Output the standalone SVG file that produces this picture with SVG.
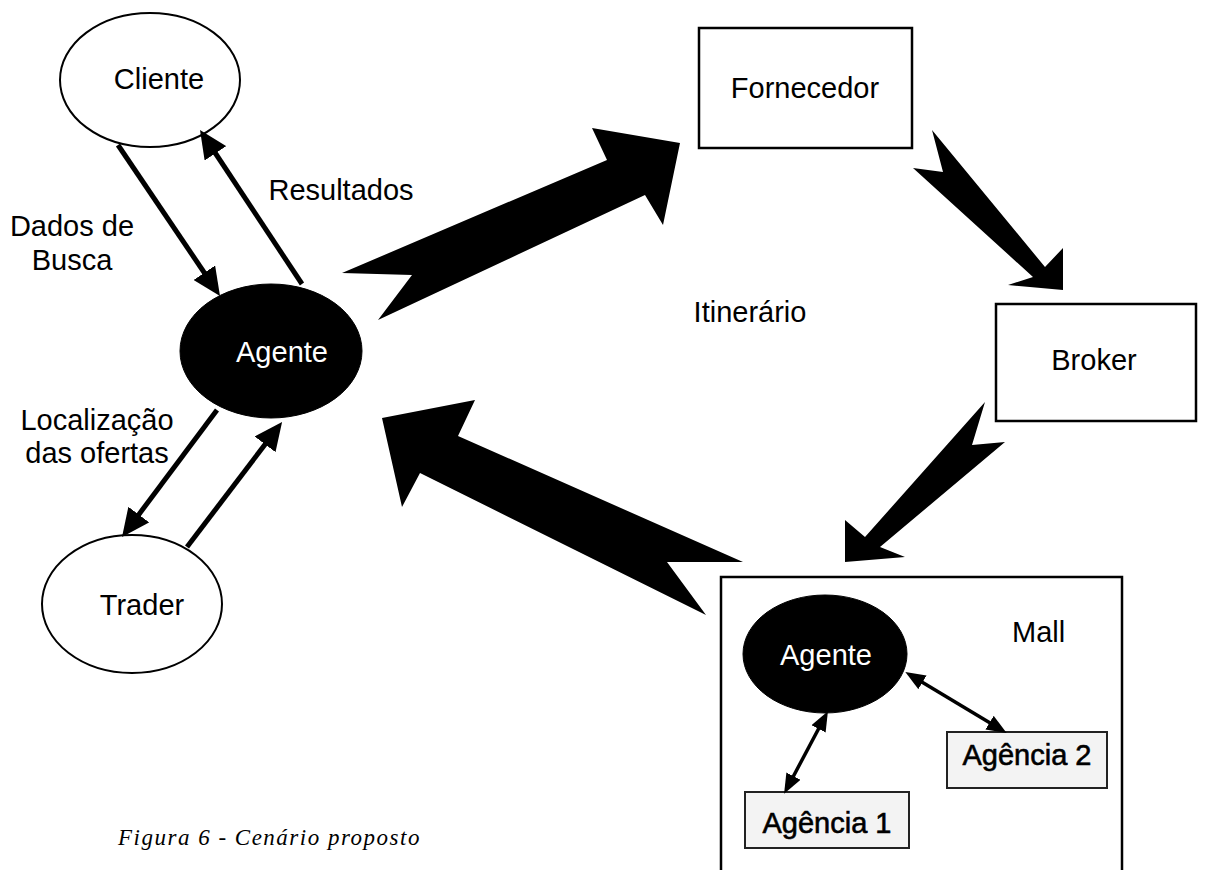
<svg xmlns="http://www.w3.org/2000/svg" width="1229" height="870" viewBox="0 0 1229 870">
<defs>
<style>
.t{font-family:"Liberation Sans",Arial,sans-serif;font-size:29px;fill:#000}
.w{fill:#fff}
.m{text-anchor:middle}
.hv{stroke:#000;stroke-width:0.6}
.node{fill:#fff;stroke:#000;stroke-width:2}
.dark{fill:#000;stroke:#000;stroke-width:1}
.box{fill:#fff;stroke:#000;stroke-width:2.5}
.ag{fill:#f3f3f3;stroke:#222;stroke-width:2}
.ln{stroke:#000;stroke-width:5;fill:none}
.ls{stroke:#000;stroke-width:3.5;fill:none}
.big{fill:#000}
.cap{font-family:"Liberation Serif","Times New Roman",serif;font-style:italic;font-size:23px;letter-spacing:1.5px;fill:#000}
</style>
<marker id="ah" markerUnits="userSpaceOnUse" markerWidth="28" markerHeight="26" refX="13" refY="13" orient="auto">
<path d="M0,0 L28,13 L0,26 z" fill="#000"/>
</marker>
<marker id="ahs" markerUnits="userSpaceOnUse" markerWidth="20" markerHeight="16" refX="8" refY="8" orient="auto-start-reverse">
<path d="M0,0 L20,8 L0,16 z" fill="#000"/>
</marker>
</defs>
<rect width="1229" height="870" fill="#fff"/>

<g id="mall">
<rect class="box" x="721" y="577" width="401" height="310"/>
<text class="t" x="1012" y="642">Mall</text>
</g>

<g id="cliente">
<ellipse class="node" cx="150" cy="80" rx="90" ry="67"/>
<text class="t m" x="159" y="89">Cliente</text>
</g>

<g id="agente">
<ellipse class="dark" cx="271" cy="351" rx="91" ry="67"/>
<text class="t w m" x="282" y="362">Agente</text>
</g>

<g id="trader">
<ellipse class="node" cx="132" cy="604" rx="90" ry="69"/>
<text class="t m" x="142" y="615">Trader</text>
</g>

<g id="fornecedor">
<rect class="box" x="699" y="28" width="213" height="120"/>
<text class="t m" x="805" y="98">Fornecedor</text>
</g>

<g id="broker">
<rect class="box" x="996" y="304" width="200" height="117"/>
<text class="t m" x="1094" y="370">Broker</text>
</g>

<g id="agente-mall">
<ellipse class="dark" cx="825" cy="654" rx="82" ry="59"/>
<text class="t w m" x="826" y="665">Agente</text>
</g>

<g id="agencia1">
<rect class="ag" x="745" y="792" width="164" height="56"/>
<text class="t m hv" x="827" y="833">Agência 1</text>
</g>

<g id="agencia2">
<rect class="ag" x="947" y="732" width="160" height="56"/>
<text class="t m hv" x="1027" y="765">Agência 2</text>
</g>

<g id="labels">
<text class="t m" x="341" y="200">Resultados</text>
<text class="t m" x="72" y="236">Dados de</text>
<text class="t m" x="72" y="270">Busca</text>
<text class="t m" x="750" y="322">Itinerário</text>
<text class="t m" x="97" y="430">Localização</text>
<text class="t m" x="97" y="463">das ofertas</text>
<text class="cap" x="118" y="845">Figura 6 - Cenário proposto</text>
</g>

<g id="connectors">
<line class="ln" x1="118" y1="145" x2="211.6" y2="283.5" marker-end="url(#ah)"/>
<line class="ln" x1="302" y1="284" x2="208.3" y2="142.5" marker-end="url(#ah)"/>
<line class="ln" x1="217" y1="410" x2="131" y2="525" marker-end="url(#ah)"/>
<line class="ln" x1="187" y1="547" x2="273" y2="434" marker-end="url(#ah)"/>
<line class="ls" x1="915.6" y1="678.2" x2="996.4" y2="726.8" marker-start="url(#ahs)" marker-end="url(#ahs)"/>
<line class="ls" x1="822.3" y1="721.8" x2="789.7" y2="783.2" marker-start="url(#ahs)" marker-end="url(#ahs)"/>
<polygon class="big" points="342,273 607,160 592,128 680,143 663,225 645,195 378,320 412,275"/>
<polygon class="big" points="932,130 1045,267 1063,248 1063,290 1008,285 1033,277 913,168 943,172"/>
<polygon class="big" points="985,402 865,537 845,520 845,562 905,557 880,547 1005,442 972,445"/>
<polygon class="big" points="382,418 475,400 458,436 743,562 667,562 706,615 420,473 402,507"/>
</g>
</svg>
